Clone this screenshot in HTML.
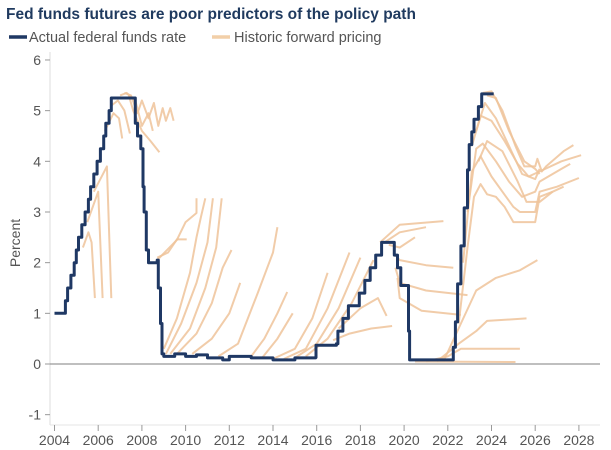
<!DOCTYPE html>
<html><head><meta charset="utf-8"><style>
body{margin:0;background:#fff;}
svg{display:block;font-family:"Liberation Sans",Arial,sans-serif;}
</style></head><body>
<svg id="chart" width="611" height="450">
<text x="6" y="19" font-size="15.5" font-weight="bold" fill="#1f3a5f">Fed funds futures are poor predictors of the policy path</text>
<g>
<line x1="9" y1="37" x2="27" y2="37" stroke="#1f3864" stroke-width="3.5"/>
<text x="29" y="42" font-size="14.5" fill="#555">Actual federal funds rate</text>
<line x1="212" y1="37" x2="230" y2="37" stroke="#f2cfa8" stroke-width="3.5"/>
<text x="234" y="42" font-size="14.5" fill="#555">Historic forward pricing</text>
</g>
<text transform="translate(20,243) rotate(-90)" text-anchor="middle" font-size="14" fill="#555">Percent</text>
<g id="axes"></g>
<g id="fwd"></g>
<g id="act"></g>
</svg>
<script>
const yTicks=[-1,0,1,2,3,4,5,6];
const xTicks=[2004,2006,2008,2010,2012,2014,2016,2018,2020,2022,2024,2026,2028];
const actual=[[2004,1],[2004.45,1],[2004.5,1.25],[2004.6,1.5],[2004.75,1.75],[2004.9,2.0],[2005.0,2.25],[2005.1,2.5],[2005.25,2.75],[2005.4,3.0],[2005.55,3.25],[2005.65,3.5],[2005.8,3.75],[2005.95,4.0],[2006.1,4.25],[2006.25,4.5],[2006.35,4.75],[2006.5,5.0],[2006.6,5.25],[2007.6,5.25],[2007.7,4.75],[2007.8,4.5],[2007.95,4.25],[2008.05,3.5],[2008.1,3.0],[2008.2,2.25],[2008.3,2.0],[2008.7,2.05],[2008.75,1.5],[2008.85,0.8],[2008.92,0.2],[2009,0.15],[2009.5,0.2],[2010,0.15],[2010.5,0.18],[2011,0.12],[2011.7,0.08],[2012,0.15],[2012.5,0.15],[2013,0.12],[2014,0.08],[2015,0.12],[2015.95,0.13],[2015.97,0.37],[2016.9,0.4],[2016.97,0.65],[2017.2,0.9],[2017.45,1.15],[2017.95,1.4],[2018.2,1.65],[2018.45,1.9],[2018.7,2.15],[2018.97,2.4],[2019.5,2.4],[2019.55,2.15],[2019.7,1.9],[2019.85,1.55],[2020.15,1.55],[2020.2,0.65],[2020.25,0.08],[2022.2,0.08],[2022.25,0.33],[2022.35,0.83],[2022.45,1.58],[2022.6,2.33],[2022.75,3.08],[2022.9,3.83],[2022.98,4.33],[2023.1,4.58],[2023.2,4.83],[2023.4,5.08],[2023.55,5.33],[2024.1,5.33]];
const forwards=[
[[2005.3,2.3],[2005.55,2.6],[2005.7,2.4],[2005.85,1.3]],
[[2005.5,2.8],[2006.0,3.4],[2006.2,1.3]],
[[2005.8,3.4],[2006.4,3.9],[2006.6,1.3]],
[[2006.3,4.6],[2006.7,4.95],[2006.95,4.85],[2007.1,4.45]],
[[2006.6,5.1],[2006.9,5.2],[2007.2,5.0],[2007.45,4.55]],
[[2007.4,5.3],[2007.6,5.0],[2008.0,4.6],[2008.4,4.4],[2008.8,4.18]],
[[2007.2,5.35],[2007.5,5.3],[2007.8,4.95],[2008.0,5.2],[2008.3,4.85],[2008.55,5.15],[2008.75,4.7],[2008.95,5.05],[2009.1,4.8],[2009.3,5.05],[2009.45,4.8]],
[[2007.0,5.3],[2007.3,5.35],[2007.7,5.2],[2008.0,4.7],[2008.3,4.95],[2008.5,4.6]],
[[2008.7,2.05],[2009.6,2.45],[2010.0,2.8],[2010.5,2.98],[2010.5,3.27]],
[[2008.7,2.1],[2009.2,2.2],[2009.6,2.46],[2010.05,2.46]],
[[2009.0,0.3],[2009.6,0.9],[2010.2,1.8],[2010.5,2.5],[2010.7,2.9],[2010.9,3.27]],
[[2009.1,0.2],[2009.8,0.8],[2010.5,1.6],[2011.0,2.4],[2011.25,3.27]],
[[2009.3,0.2],[2010.2,0.7],[2010.9,1.5],[2011.4,2.3],[2011.65,3.27]],
[[2009.6,0.2],[2010.5,0.6],[2011.2,1.2],[2011.7,1.9],[2012.1,2.25]],
[[2010.3,0.2],[2011.2,0.5],[2012.0,1.0],[2012.5,1.6]],
[[2011.5,0.15],[2012.4,0.4],[2013.3,1.4],[2014.0,2.2],[2014.2,2.7]],
[[2013.0,0.15],[2013.6,0.5],[2014.2,1.0],[2014.65,1.42]],
[[2013.5,0.12],[2014.2,0.5],[2014.9,1.0]],
[[2014.0,0.1],[2015.0,0.3],[2015.8,0.9],[2016.5,1.8]],
[[2014.5,0.1],[2015.5,0.3],[2016.5,1.1],[2017.5,2.2]],
[[2015.0,0.12],[2016.0,0.4],[2017.0,1.1],[2018.0,2.1]],
[[2015.5,0.15],[2016.5,0.5],[2017.6,1.2],[2018.6,2.05]],
[[2016.75,0.47],[2017.5,0.6],[2018.5,0.7],[2019.45,0.75]],
[[2017.0,0.7],[2018.0,1.1],[2018.8,1.3],[2019.2,0.95]],
[[2018.9,2.4],[2019.8,2.75],[2021.8,2.82]],
[[2019.1,2.4],[2019.8,2.6],[2021.0,2.7]],
[[2019.3,2.35],[2019.8,2.3],[2020.5,2.5]],
[[2019.5,2.2],[2019.8,2.05],[2021.0,1.95],[2022.25,1.9]],
[[2019.6,1.9],[2019.8,1.6],[2021.0,1.45],[2022.9,1.36]],
[[2019.7,1.7],[2019.8,1.3],[2020.8,1.05],[2022.6,0.97]],
[[2020.5,0.05],[2025.1,0.04]],
[[2021.0,0.05],[2022.0,0.15],[2022.6,0.3],[2025.3,0.3]],
[[2021.5,0.05],[2022.5,0.4],[2023.3,0.65],[2023.8,0.85],[2025.6,0.9]],
[[2021.8,0.05],[2022.6,0.8],[2023.3,1.45],[2024.2,1.7],[2025.3,1.85],[2026.1,2.05]],
[[2022.5,0.8],[2022.9,2.3],[2023.2,3.3],[2023.5,3.55],[2023.8,3.35],[2024.2,3.3],[2024.6,3.1],[2025.0,2.8],[2026.0,2.8],[2026.2,3.3],[2026.8,3.4],[2027.3,3.5]],
[[2022.7,2.0],[2023.1,3.8],[2023.5,4.1],[2024.0,3.7],[2024.5,3.4],[2025.0,3.1],[2025.3,3.0],[2026.0,3.0],[2026.2,3.4],[2027.0,3.5],[2028.0,3.67]],
[[2022.9,3.0],[2023.3,4.25],[2023.6,4.35],[2024.2,4.0],[2024.8,3.6],[2025.4,3.3],[2026.0,3.4],[2026.2,3.6],[2027.2,3.85],[2027.6,3.95]],
[[2023.1,4.3],[2023.5,4.9],[2024.0,4.8],[2024.6,4.4],[2025.2,3.95],[2025.7,3.7],[2026.2,3.8],[2027.2,4.0],[2028.1,4.12]],
[[2023.3,4.6],[2023.7,5.15],[2024.2,4.85],[2024.8,4.3],[2025.4,3.75],[2026.0,3.65],[2026.2,3.85]],
[[2023.6,5.35],[2024.0,5.38],[2024.5,5.0],[2025.1,4.3],[2025.5,3.9],[2026.0,3.9],[2026.1,4.05],[2026.3,3.8],[2026.5,3.9],[2027.3,4.2],[2027.75,4.32]],
[[2023.8,5.3],[2024.2,5.25],[2024.8,4.6],[2025.5,4.0],[2026.0,3.85],[2026.2,3.75]],
[[2023.4,4.0],[2023.8,4.4],[2024.5,4.2],[2025.2,3.6],[2025.6,3.2],[2026.2,3.2],[2026.8,3.4]]
];
const NS="http://www.w3.org/2000/svg";
function xs(v){return 54.5+(v-2004)*21.85;}
function ys(v){return 364-v*50.67;}
function mk(t,a,p){const e=document.createElementNS(NS,t);for(const k in a)e.setAttribute(k,a[k]);p.appendChild(e);return e;}
const ax=document.getElementById('axes');
let e=mk('line',{x1:50,y1:52,x2:50,y2:425,stroke:'#ddd','stroke-width':1},ax);


e=mk('line',{x1:50,y1:425,x2:600,y2:425,stroke:'#e4e4e4','stroke-width':1},ax);


yTicks.forEach(v=>{
 const y=ys(v);
 let t=mk('line',{x1:45,y1:y,x2:50,y2:y,stroke:'#999'},ax);
 
 
 let l=mk('text',{x:41,y:y+5,'text-anchor':'end','font-size':14,fill:'#555'},ax);
 l.textContent=v;
 
 
});
xTicks.forEach(v=>{
 const x=xs(v);
 let t=mk('line',{x1:x,y1:425,x2:x,y2:431,stroke:'#999'},ax);
 
 
 let l=mk('text',{x:x,y:445,'text-anchor':'middle','font-size':14,fill:'#555'},ax);
 l.textContent=v;
 
 
});
const fg=document.getElementById('fwd');
forwards.forEach(c=>{
 const p=mk('polyline',{points:c.map(q=>xs(q[0]).toFixed(1)+','+ys(q[1]).toFixed(1)).join(' '),fill:'none',stroke:'#eec39a','stroke-width':2,'stroke-opacity':0.85,'stroke-linejoin':'round'},fg);
 
 
});
const z=mk('line',{x1:50,y1:ys(0),x2:600,y2:ys(0),stroke:'#999','stroke-width':1.3},document.getElementById('act'));


let d='';
actual.forEach((q,i)=>{
 const x=xs(q[0]).toFixed(1),y=ys(q[1]).toFixed(1);
 if(i===0){d+='M'+x+','+y;}
 else{d+=' H'+x+' V'+y;}
});
const a=mk('path',{d:d,fill:'none',stroke:'#1f3864','stroke-width':3,'stroke-linejoin':'round'},document.getElementById('act'));


</script>
</body></html>
